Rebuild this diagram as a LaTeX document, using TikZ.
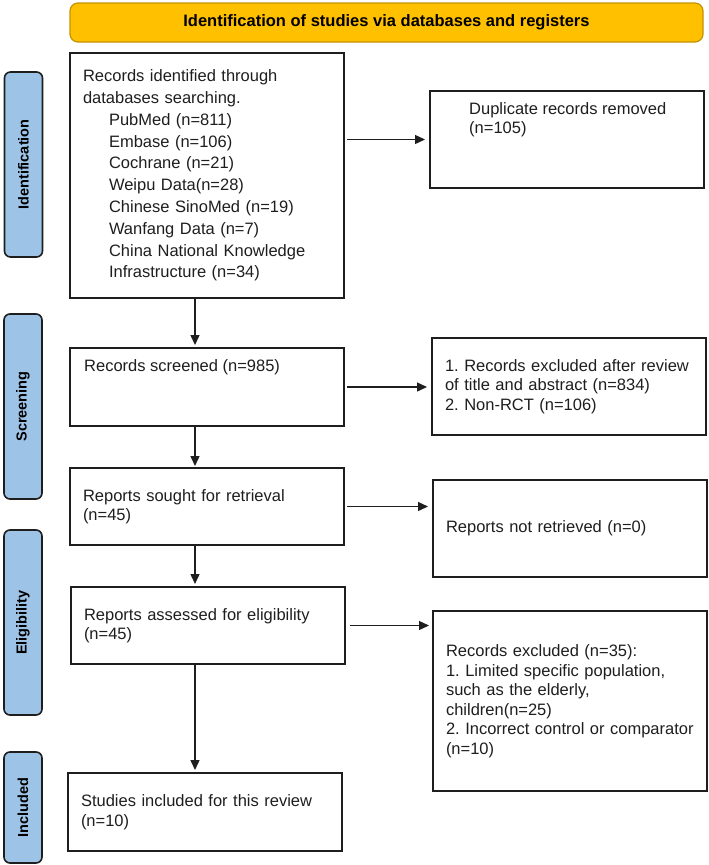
\documentclass[tikz,border=0pt]{standalone}
\usepackage{fontspec}
\setmainfont{Liberation Sans}
\frenchspacing
\hyphenpenalty=10000
\definecolor{banner}{RGB}{255,192,0}
\definecolor{bannerline}{RGB}{196,146,0}
\definecolor{phase}{RGB}{157,195,230}
\definecolor{ink}{RGB}{30,30,30}
\usetikzlibrary{arrows.meta,calc}
\tikzset{
  box/.style={draw=ink, line width=2pt, inner xsep=13pt, inner ysep=0pt,
              text width=248pt, align=left, text=ink,
              font=\fontsize{16.5}{19.5}\selectfont},
  note/.style={inner sep=0pt, align=left, text=ink,
              font=\fontsize{16.5}{19.5}\selectfont},
  phasebox/.style={draw=ink, line width=1.6pt, rounded corners=6pt, fill=phase,
              rotate=90, minimum height=38pt, inner sep=0pt,
              font=\fontsize{14.5}{17}\selectfont\bfseries},
  title/.style={draw=bannerline, line width=1.2pt, rounded corners=8pt, fill=banner,
              font=\fontsize{16.5}{19}\selectfont\bfseries},
  flow/.style={-{Triangle[length=10pt,width=9pt]}, ink, line width=1.4pt},
}
\begin{document}
\begin{tikzpicture}[x=1pt, y=-1pt]
  \useasboundingbox (0,0) rectangle (709,865);
  \node[title, minimum width=633pt, minimum height=39pt] (head) at (386.5,22.5) {Identification of studies via databases and registers};
  % phases
  \node[phasebox, minimum width=185pt] (pid) at (23.5,164.5) {Identification};
  \node[phasebox, minimum width=185pt] (psc) at (23,406.5) {Screening};
  \node[phasebox, minimum width=185pt] (pel) at (23,622.5) {Eligibility};
  \node[phasebox, minimum width=111pt] (pin) at (23,807.5) {Included};
  % main column
  \node[box, minimum height=245pt, font=\fontsize{16.5}{21.8}\selectfont] (rec) at (207,175.5) {Records identified through\\databases searching.\\
    \hspace*{26pt}PubMed (n=811)\\\hspace*{26pt}Embase (n=106)\\\hspace*{26pt}Cochrane (n=21)\\\hspace*{26pt}Weipu Data(n=28)\\
    \hspace*{26pt}Chinese SinoMed (n=19)\\\hspace*{26pt}Wanfang Data (n=7)\\\hspace*{26pt}China National Knowledge\\\hspace*{26pt}Infrastructure (n=34)};
  \node[box, minimum height=78pt] (scr) at (207,387) {};
  \node[note, anchor=north west] (scrt) at ($(scr.north west)+(15,12)$) {Records screened (n=985)};
  \node[box, minimum height=77pt] (sou) at (207,506.5) {Reports sought for retrieval\\(n=45)};
  \node[box, minimum height=77pt] (ass) at (208,625.5) {Reports assessed for eligibility\\(n=45)};
  \node[box, minimum height=78pt] (inc) at (205,812) {Studies included for this review\\(n=10)};
  % exclusions
  \node[box, minimum height=97pt] (dup) at (567,139.5) {};
  \node[note, anchor=north west] (dupt) at ($(dup.north west)+(40,12)$) {Duplicate records removed\\(n=105)};
  \node[box, minimum height=97pt] (exc1) at (569,386.5) {1. Records excluded after review\\of title and abstract (n=834)\\2. Non-RCT (n=106)};
  \node[box, minimum height=97pt] (nret) at (570,528.5) {Reports not retrieved (n=0)};
  \node[box, minimum height=180pt] (exc2) at (570,701) {Records excluded (n=35):\\1. Limited specific population,\\such as the elderly,\\children(n=25)\\2. Incorrect control or comparator\\(n=10)};
  % arrows
  \coordinate (spine) at (195,0);
  \draw[flow, shorten >=2pt] (rec.south -| spine) -- (scr.north -| spine);
  \draw[flow, shorten >=1pt] (scr.south -| spine) -- (sou.north -| spine);
  \draw[flow, shorten >=2pt] (sou.south -| spine) -- (ass.north -| spine);
  \draw[flow, shorten >=2pt] (ass.south -| spine) -- (inc.north -| spine);
  \draw[flow, shorten <=2pt, shorten >=4pt] (rec.east |- dup.west) -- (dup.west);
  \draw[flow, shorten <=2pt, shorten >=4pt] (scr.east) -- (scr.east -| exc1.west);
  \draw[flow, shorten <=2pt, shorten >=4pt] (sou.east) -- (sou.east -| nret.west);
  \draw[flow, shorten <=4pt, shorten >=3pt] (ass.east) -- (ass.east -| exc2.west);
\end{tikzpicture}
\end{document}
